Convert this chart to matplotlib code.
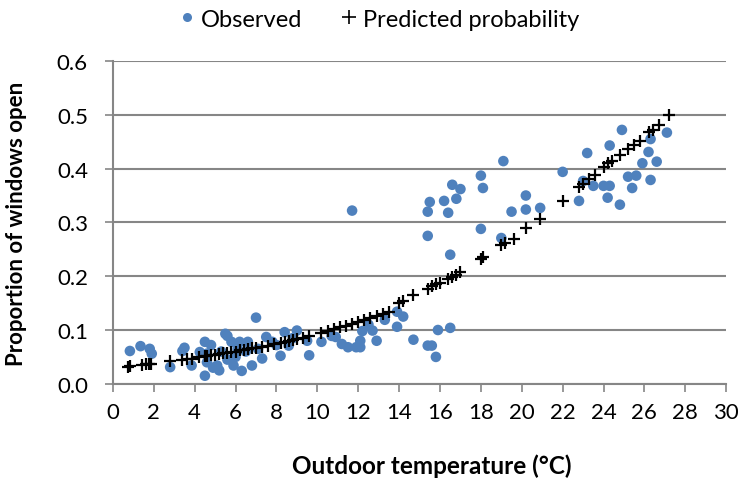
import matplotlib
matplotlib.use("Agg")
import matplotlib.pyplot as plt
from matplotlib.lines import Line2D

# observed proportion of open windows vs outdoor temperature
obs_x = [0.83, 1.35, 1.8, 1.9, 2.8, 3.4, 3.5, 3.85, 4.25, 4.5, 4.6, 4.6, 4.5,
         5.1, 5.5, 5.6, 5.2, 5.8, 5.9, 6.2, 6.3, 6.6, 6.8, 7.0, 7.3, 7.5, 7.8,
         8.2, 8.4, 8.6, 9.0, 9.5, 9.6, 4.8, 5.3, 6.0, 6.5, 7.1, 8.0, 8.8, 4.9,
         5.6, 6.1,
         10.2, 10.7, 10.9, 11.2, 11.5, 11.7, 11.9, 12.1, 12.1, 12.2, 12.5, 12.7,
         12.9, 13.3, 13.9, 13.9, 14.2, 14.7, 15.4, 15.6, 15.8, 15.9, 16.5,
         15.4, 15.4, 15.5, 16.2, 16.4, 16.5, 16.6, 16.8, 17.0, 18.0, 18.1, 18.0,
         19.0, 19.1, 19.5, 20.2, 20.2, 20.9,
         22.0, 22.8, 23.0, 23.2, 23.5, 24.0, 24.3, 24.2, 24.3, 24.8, 24.9, 25.2,
         25.4, 25.6, 25.9, 26.3, 26.2, 26.3, 26.6, 27.1]
obs_y = [0.061, 0.070, 0.065, 0.056, 0.031, 0.061, 0.067, 0.034, 0.059, 0.078,
         0.056, 0.040, 0.015,
         0.034, 0.093, 0.089, 0.025, 0.078, 0.034, 0.078, 0.024, 0.078, 0.034,
         0.123, 0.047, 0.087, 0.078, 0.052, 0.096, 0.071, 0.099, 0.080, 0.053,
         0.072, 0.060, 0.050, 0.060, 0.065, 0.072, 0.085, 0.030, 0.045, 0.065,
         0.078, 0.089, 0.087, 0.074, 0.068, 0.322, 0.068, 0.080, 0.068, 0.098,
         0.110, 0.099, 0.080, 0.119, 0.134, 0.106, 0.125, 0.082, 0.071, 0.071,
         0.050, 0.100, 0.104,
         0.275, 0.320, 0.338, 0.340, 0.318, 0.240, 0.370, 0.344, 0.362, 0.387,
         0.364, 0.288, 0.271, 0.414, 0.320, 0.350, 0.324, 0.327,
         0.394, 0.340, 0.377, 0.429, 0.368, 0.368, 0.368, 0.346, 0.443, 0.333,
         0.472, 0.385, 0.364, 0.387, 0.410, 0.379, 0.431, 0.455, 0.413, 0.467]

# fitted model output
pred_x = [0.75, 0.85, 1.4, 1.6, 1.75, 1.85, 2.8, 3.4, 3.6, 3.85, 4.2, 4.5, 4.6,
          4.8, 5.0, 5.2, 5.4, 5.6, 5.8, 6.0, 6.2, 6.4, 6.6, 6.8, 7.0, 7.3, 7.6,
          7.9, 8.2, 8.4, 8.6, 8.8, 9.0, 9.3, 9.6, 10.2, 10.5, 10.8, 11.1, 11.4,
          11.7, 12.0, 12.3, 12.6, 12.9, 13.2, 13.5, 14.0, 14.2, 14.7, 15.4,
          15.6, 15.8, 16.0, 16.4, 16.6, 16.8, 17.0, 18.0, 18.1, 19.0, 19.2,
          19.6, 20.2, 20.9, 22.0, 22.8, 23.0, 23.3, 23.6, 24.0, 24.2, 24.4,
          24.8, 25.2, 25.5, 25.8, 26.2, 26.4, 26.7, 27.2]
pred_y = [0.032, 0.033, 0.035, 0.036, 0.036, 0.037, 0.042, 0.045, 0.046, 0.047,
          0.049, 0.051, 0.052, 0.053, 0.054, 0.055, 0.057, 0.058, 0.059, 0.060,
          0.062, 0.063, 0.064, 0.066, 0.067, 0.069, 0.071, 0.074, 0.076, 0.078,
          0.080, 0.082, 0.083, 0.086, 0.089, 0.095, 0.098, 0.101, 0.105, 0.108,
          0.111, 0.115, 0.118, 0.122, 0.126, 0.130, 0.134, 0.150, 0.154, 0.165,
          0.177, 0.181, 0.185, 0.188, 0.195, 0.199, 0.203, 0.207, 0.232, 0.235,
          0.258, 0.262, 0.270, 0.290, 0.307, 0.340, 0.365, 0.372, 0.380, 0.388,
          0.403, 0.410, 0.415, 0.425, 0.437, 0.444, 0.452, 0.468, 0.472, 0.482,
          0.500]

x_ticks = list(range(0, 31, 2))
y_ticks = [0.0, 0.1, 0.2, 0.3, 0.4, 0.5, 0.6]

BLUE = "#4F81BD"
GRID = "#868686"
plt.rcParams["font.family"] = ["Lato", "DejaVu Sans"]

fig = plt.figure(figsize=(7.38, 4.81), dpi=100)
ax = fig.add_axes([0.153, 0.2, 0.831, 0.671])

ax.scatter(obs_x, obs_y, s=58, color=BLUE, edgecolors="none", zorder=3)
ax.scatter(pred_x, pred_y, s=65, marker="+", color="black", linewidths=1.6,
           zorder=4)

ax.set_xlim(0, 30)
ax.set_ylim(0, 0.6)
ax.set_xticks(x_ticks)
ax.set_yticks(y_ticks)
ax.set_yticklabels([f"{v:.1f}" for v in y_ticks])
ax.tick_params(axis="both", direction="out", length=6, width=1.2, color=GRID,
               labelsize=16)
ax.tick_params(axis="x", pad=7)
ax.tick_params(axis="y", pad=12)
ax.yaxis.grid(True, color=GRID, linewidth=1.5)
ax.set_axisbelow(True)
for side in ("top", "right"):
    ax.spines[side].set_visible(False)
for side in ("left", "bottom"):
    ax.spines[side].set_color(GRID)
    ax.spines[side].set_linewidth(1.5)

ax.set_xlabel("Outdoor temperature (°C)", fontsize=17.5, fontweight="bold",
              va="top")
ax.xaxis.set_label_coords(0.52, -0.215)
ax.set_ylabel("Proportion of windows open", fontsize=16, fontweight="bold")
ax.yaxis.set_label_coords(-0.14, 0.5)

handles = [
    Line2D([], [], ls="", marker="o", ms=6.5, color=BLUE, mec="none"),
    Line2D([], [], ls="", marker="+", ms=10, mew=1.2, color="black"),
]
fig.legend(handles, ["Observed", "Predicted probability"], loc="center",
           bbox_to_anchor=(0.511, 0.958), ncol=2, frameon=False, fontsize=17,
           handletextpad=0.1, columnspacing=1.45, handlelength=1.0)

fig.savefig("out.png", dpi=100)
